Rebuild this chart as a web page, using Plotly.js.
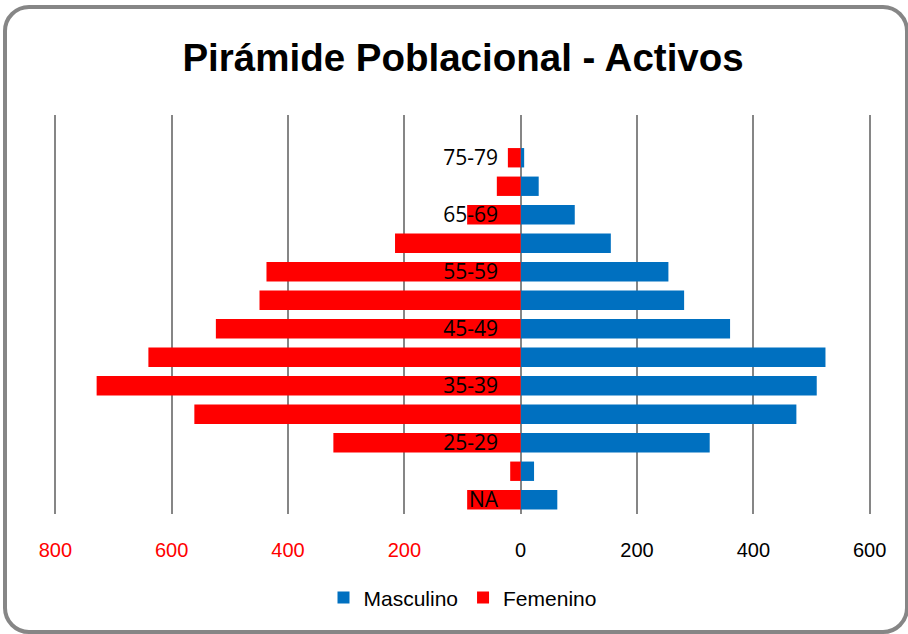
<!DOCTYPE html>
<html>
<head>
<meta charset="utf-8">
<script src="https://cdn.plot.ly/plotly-3.0.1.min.js"></script>
<style>
  html, body { margin:0; padding:0; background:#fff; }
  #wrap { position:relative; width:908px; height:634px; }
  #chart { position:absolute; left:0; top:0; width:908px; height:634px; }
  #frame { position:absolute; left:3px; top:5px; width:898px; height:621px;
           border:4px solid #868686; border-radius:26px; pointer-events:none; }
</style>
</head>
<body>
<div id="wrap"><div id="chart"></div><div id="frame"></div></div>
<script>
const categories = ["NA","20-24","25-29","30-34","35-39","40-44","45-49","50-54","55-59","60-64","65-69","70-74","75-79"];
const labeledCategories = ["NA","25-29","35-39","45-49","55-59","65-69","75-79"];
const masculino = [63, 23, 325, 474, 509, 524, 360, 281, 254, 155, 93, 31, 6];
const femenino  = [92, 18, 322, 561, 729, 640, 524, 449, 437, 216, 92, 41, 22];
const xTickVals = [-800, -600, -400, -200, 0, 200, 400, 600];
const xTickText = ['<span style="color:#FF0000">800</span>','<span style="color:#FF0000">600</span>',
                   '<span style="color:#FF0000">400</span>','<span style="color:#FF0000">200</span>',
                   '0','200','400','600'];

const traces = [
  { type:'bar', orientation:'h', name:'Masculino', y:categories, x:masculino,
    marker:{color:'#0070C0'} },
  { type:'bar', orientation:'h', name:'Femenino', y:categories, x:femenino.map(v => -v),
    marker:{color:'#FF0000'} }
];

const layout = {
  width:908, height:634,
  margin:{l:53, r:36, t:115, b:120},
  paper_bgcolor:'#fff', plot_bgcolor:'#fff',
  barmode:'relative', bargap:0.32,
  font:{family:'"Liberation Sans", sans-serif', color:'#000'},
  title:{text:'<b>Pirámide Poblacional - Activos</b>', x:0.51, xanchor:'center',
         y:0.91, yanchor:'middle', yref:'container',
         font:{family:'"Liberation Sans", sans-serif', size:38.5, color:'#000'}},
  xaxis:{range:[-804, 604], tickvals:xTickVals, ticktext:xTickText,
         showgrid:true, gridcolor:'#868686', gridwidth:2,
         zeroline:true, zerolinecolor:'#868686', zerolinewidth:2,
         showline:false, ticks:'', ticklabelstandoff:22,
         tickfont:{size:20, color:'#000'}, fixedrange:true},
  yaxis:{type:'category', categoryorder:'array', categoryarray:categories,
         range:[-0.5, 13.5], tickvals:labeledCategories,
         anchor:'free', position:0.5715, side:'left',
         showgrid:false, zeroline:false, showline:false, ticks:'',
         ticklabelstandoff:23,
         tickfont:{family:'"Open Sans", sans-serif', size:21, color:'#000'}, fixedrange:true},
  legend:{orientation:'h', x:0.5, xanchor:'center', y:-0.21, yanchor:'middle',
          font:{size:21, color:'#000'}, traceorder:'normal', itemwidth:30},
  showlegend:true
};

Plotly.newPlot('chart', traces, layout, {displayModeBar:false, staticPlot:true});
</script>
</body>
</html>
